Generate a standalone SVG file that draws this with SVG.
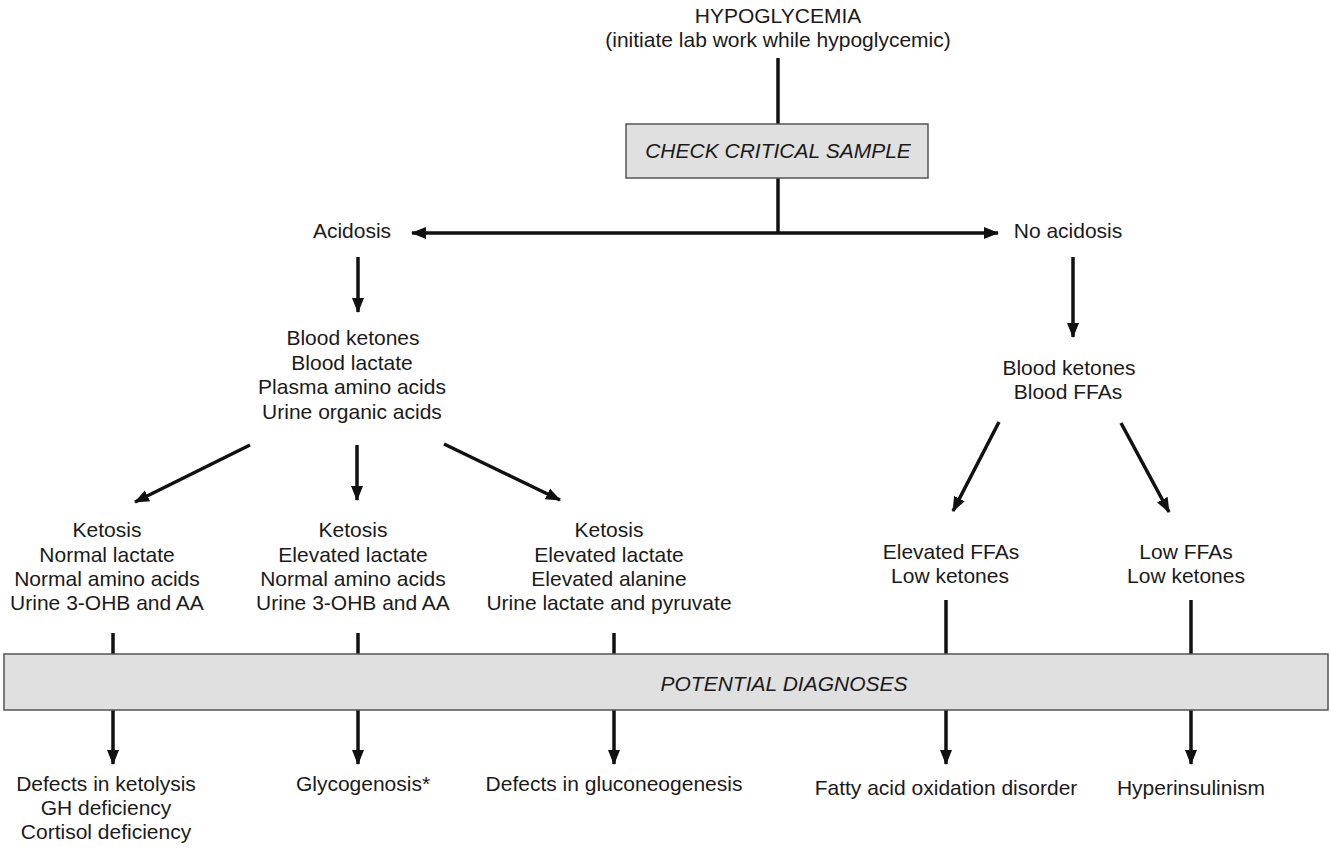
<svg xmlns="http://www.w3.org/2000/svg" width="1330" height="849" viewBox="0 0 1330 849">
<defs>
<marker id="ah" markerUnits="userSpaceOnUse" markerWidth="16" markerHeight="16" viewBox="0 0 16 16" refX="14" refY="8" orient="auto-start-reverse">
<path d="M0,2 L15,8 L0,14 z" fill="#111"/>
</marker>
</defs>
<style>
text{font-family:"Liberation Sans",Arial,sans-serif;font-size:21px;fill:#1a1a1a;text-anchor:middle}
.it{font-style:italic}
.box{fill:#e0e0e0;stroke:#555;stroke-width:1.5}
.ln{stroke:#111;stroke-width:3.5;fill:none}
.ar{stroke:#111;stroke-width:3.5;fill:none;marker-end:url(#ah)}
</style>
<rect width="1330" height="849" fill="#fff"/>
<g id="connectors">
<line class="ln" x1="778" y1="58" x2="778" y2="124"/>
<line class="ln" x1="778" y1="178" x2="778" y2="233"/>
<line class="ar" x1="778" y1="233" x2="412" y2="233"/>
<line class="ar" x1="778" y1="233" x2="998" y2="233"/>
<line class="ar" x1="358" y1="257" x2="358" y2="312"/>
<line class="ar" x1="1073" y1="257" x2="1073" y2="337"/>
<line class="ar" x1="250" y1="445" x2="135" y2="502"/>
<line class="ar" x1="357" y1="445" x2="357" y2="500"/>
<line class="ar" x1="444" y1="444" x2="560" y2="500"/>
<line class="ar" x1="999" y1="422" x2="953" y2="511"/>
<line class="ar" x1="1121" y1="423" x2="1169" y2="512"/>
<line class="ln" x1="113" y1="633" x2="113" y2="654"/>
<line class="ln" x1="358" y1="633" x2="358" y2="654"/>
<line class="ln" x1="614" y1="633" x2="614" y2="654"/>
<line class="ln" x1="946" y1="600" x2="946" y2="654"/>
<line class="ln" x1="1191" y1="600" x2="1191" y2="654"/>
<line class="ar" x1="113" y1="710" x2="113" y2="764"/>
<line class="ar" x1="358" y1="710" x2="358" y2="764"/>
<line class="ar" x1="614" y1="710" x2="614" y2="764"/>
<line class="ar" x1="946" y1="710" x2="946" y2="764"/>
<line class="ar" x1="1191" y1="710" x2="1191" y2="764"/>
</g>
<g id="hypoglycemia">
<text x="778" y="23">HYPOGLYCEMIA</text>
<text x="778" y="47">(initiate lab work while hypoglycemic)</text>
</g>
<g id="check-critical-sample">
<rect class="box" x="626" y="124" width="302" height="54"/>
<text class="it" x="778" y="158">CHECK CRITICAL SAMPLE</text>
</g>
<g id="acidosis"><text x="352" y="238">Acidosis</text></g>
<g id="no-acidosis"><text x="1068" y="238">No acidosis</text></g>
<g id="acid-tests">
<text x="353" y="345">Blood ketones</text>
<text x="352" y="369.5">Blood lactate</text>
<text x="352" y="394">Plasma amino acids</text>
<text x="352" y="418.5">Urine organic acids</text>
</g>
<g id="noacid-tests">
<text x="1069" y="375">Blood ketones</text>
<text x="1068" y="399">Blood FFAs</text>
</g>
<g id="col1">
<text x="107" y="537">Ketosis</text>
<text x="107" y="562">Normal lactate</text>
<text x="107" y="586">Normal amino acids</text>
<text x="107" y="610">Urine 3-OHB and AA</text>
</g>
<g id="col2">
<text x="353" y="537">Ketosis</text>
<text x="353" y="562">Elevated lactate</text>
<text x="353" y="586">Normal amino acids</text>
<text x="353" y="610">Urine 3-OHB and AA</text>
</g>
<g id="col3">
<text x="609" y="537">Ketosis</text>
<text x="609" y="562">Elevated lactate</text>
<text x="609" y="586">Elevated alanine</text>
<text x="609" y="610">Urine lactate and pyruvate</text>
</g>
<g id="col4">
<text x="951" y="559">Elevated FFAs</text>
<text x="950" y="583">Low ketones</text>
</g>
<g id="col5">
<text x="1186" y="559">Low FFAs</text>
<text x="1186" y="583">Low ketones</text>
</g>
<g id="potential-diagnoses">
<rect class="box" x="4" y="654" width="1324" height="56"/>
<text class="it" x="784" y="691">POTENTIAL DIAGNOSES</text>
</g>
<g id="dx1">
<text x="106" y="791">Defects in ketolysis</text>
<text x="106" y="815">GH deficiency</text>
<text x="106" y="839">Cortisol deficiency</text>
</g>
<g id="dx2"><text x="363" y="791">Glycogenosis*</text></g>
<g id="dx3"><text x="614" y="791">Defects in gluconeogenesis</text></g>
<g id="dx4"><text x="946" y="795">Fatty acid oxidation disorder</text></g>
<g id="dx5"><text x="1191" y="795">Hyperinsulinism</text></g>
</svg>
